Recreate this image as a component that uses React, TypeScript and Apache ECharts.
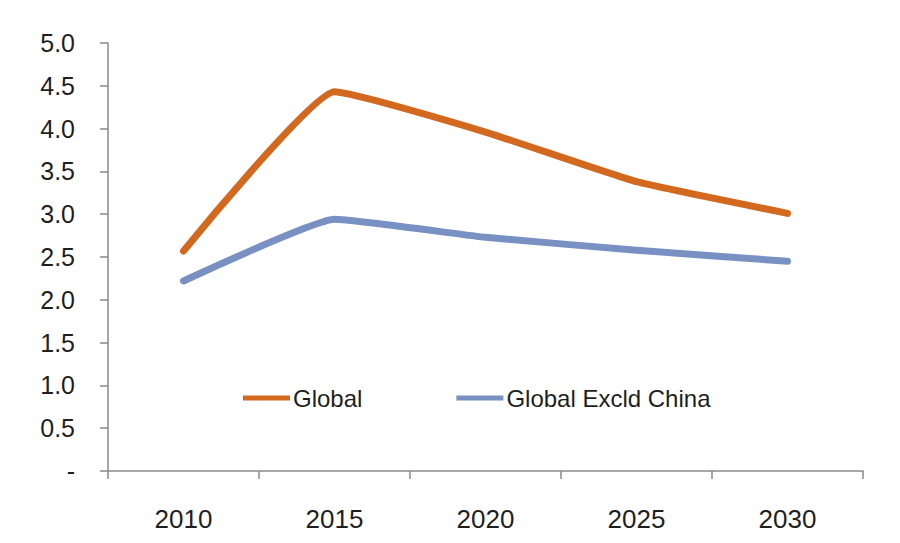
import React, { useEffect, useRef } from "react";
import * as echarts from "echarts";

const categories = ["2010", "2015", "2020", "2025", "2030"];
const globalValues = [2.57, 4.43, 3.96, 3.38, 3.01];
const exclChinaValues = [2.22, 2.94, 2.73, 2.58, 2.45];
const seriesNames = ["Global", "Global Excld China"];

export default function App() {
  const ref = useRef<HTMLDivElement>(null);
  useEffect(() => {
    document.body.style.margin = "0";
    if (!ref.current) return;
    const chart = echarts.init(ref.current, undefined, { renderer: "svg" });
    const font = "Liberation Sans";
    const axisColor = "#8a8a8a";
    chart.setOption({
      animation: false,
      backgroundColor: "#ffffff",
      textStyle: { fontFamily: font },
      grid: { left: 108, right: 37, top: 43, bottom: 72, containLabel: false },
      legend: {
        left: 238,
        top: 381,
        itemWidth: 47,
        itemHeight: 5,
        itemGap: 94,
        icon: "rect",
        textStyle: { fontFamily: font, fontSize: 24, color: "#1f1f1f", padding: [0, 0, 0, -2] },
        data: seriesNames,
      },
      xAxis: {
        type: "category",
        data: categories,
        boundaryGap: true,
        axisLine: { lineStyle: { color: axisColor, width: 1.5 } },
        axisTick: { show: true, length: 8, alignWithLabel: false, lineStyle: { color: axisColor, width: 1.5 } },
        axisLabel: { margin: 35, fontSize: 26, fontFamily: font, color: "#1f1f1f" },
        splitLine: { show: false },
      },
      yAxis: {
        type: "value",
        min: 0,
        max: 5,
        interval: 0.5,
        axisLine: { show: true, lineStyle: { color: axisColor, width: 1.5 } },
        axisTick: { show: true, length: 8, lineStyle: { color: axisColor, width: 1.5 } },
        axisLabel: {
          margin: 33,
          fontSize: 25,
          fontFamily: font,
          color: "#1f1f1f",
          padding: [8, 0, 0, 0],
          formatter: (v: number) => (v === 0 ? "-" : v.toFixed(1)),
        },
        splitLine: { show: false },
      },
      series: [
        {
          name: seriesNames[0],
          type: "line",
          data: globalValues,
          smooth: 0.12,
          symbol: "none",
          lineStyle: { color: "#D2691F", width: 7, cap: "round", join: "round" },
          itemStyle: { color: "#D2691F" },
        },
        {
          name: seriesNames[1],
          type: "line",
          data: exclChinaValues,
          smooth: 0.12,
          symbol: "none",
          lineStyle: { color: "#7890C2", width: 7, cap: "round", join: "round" },
          itemStyle: { color: "#7890C2" },
        },
      ],
    });
    return () => chart.dispose();
  }, []);
  return <div ref={ref} style={{ width: 900, height: 543 }} />;
}
